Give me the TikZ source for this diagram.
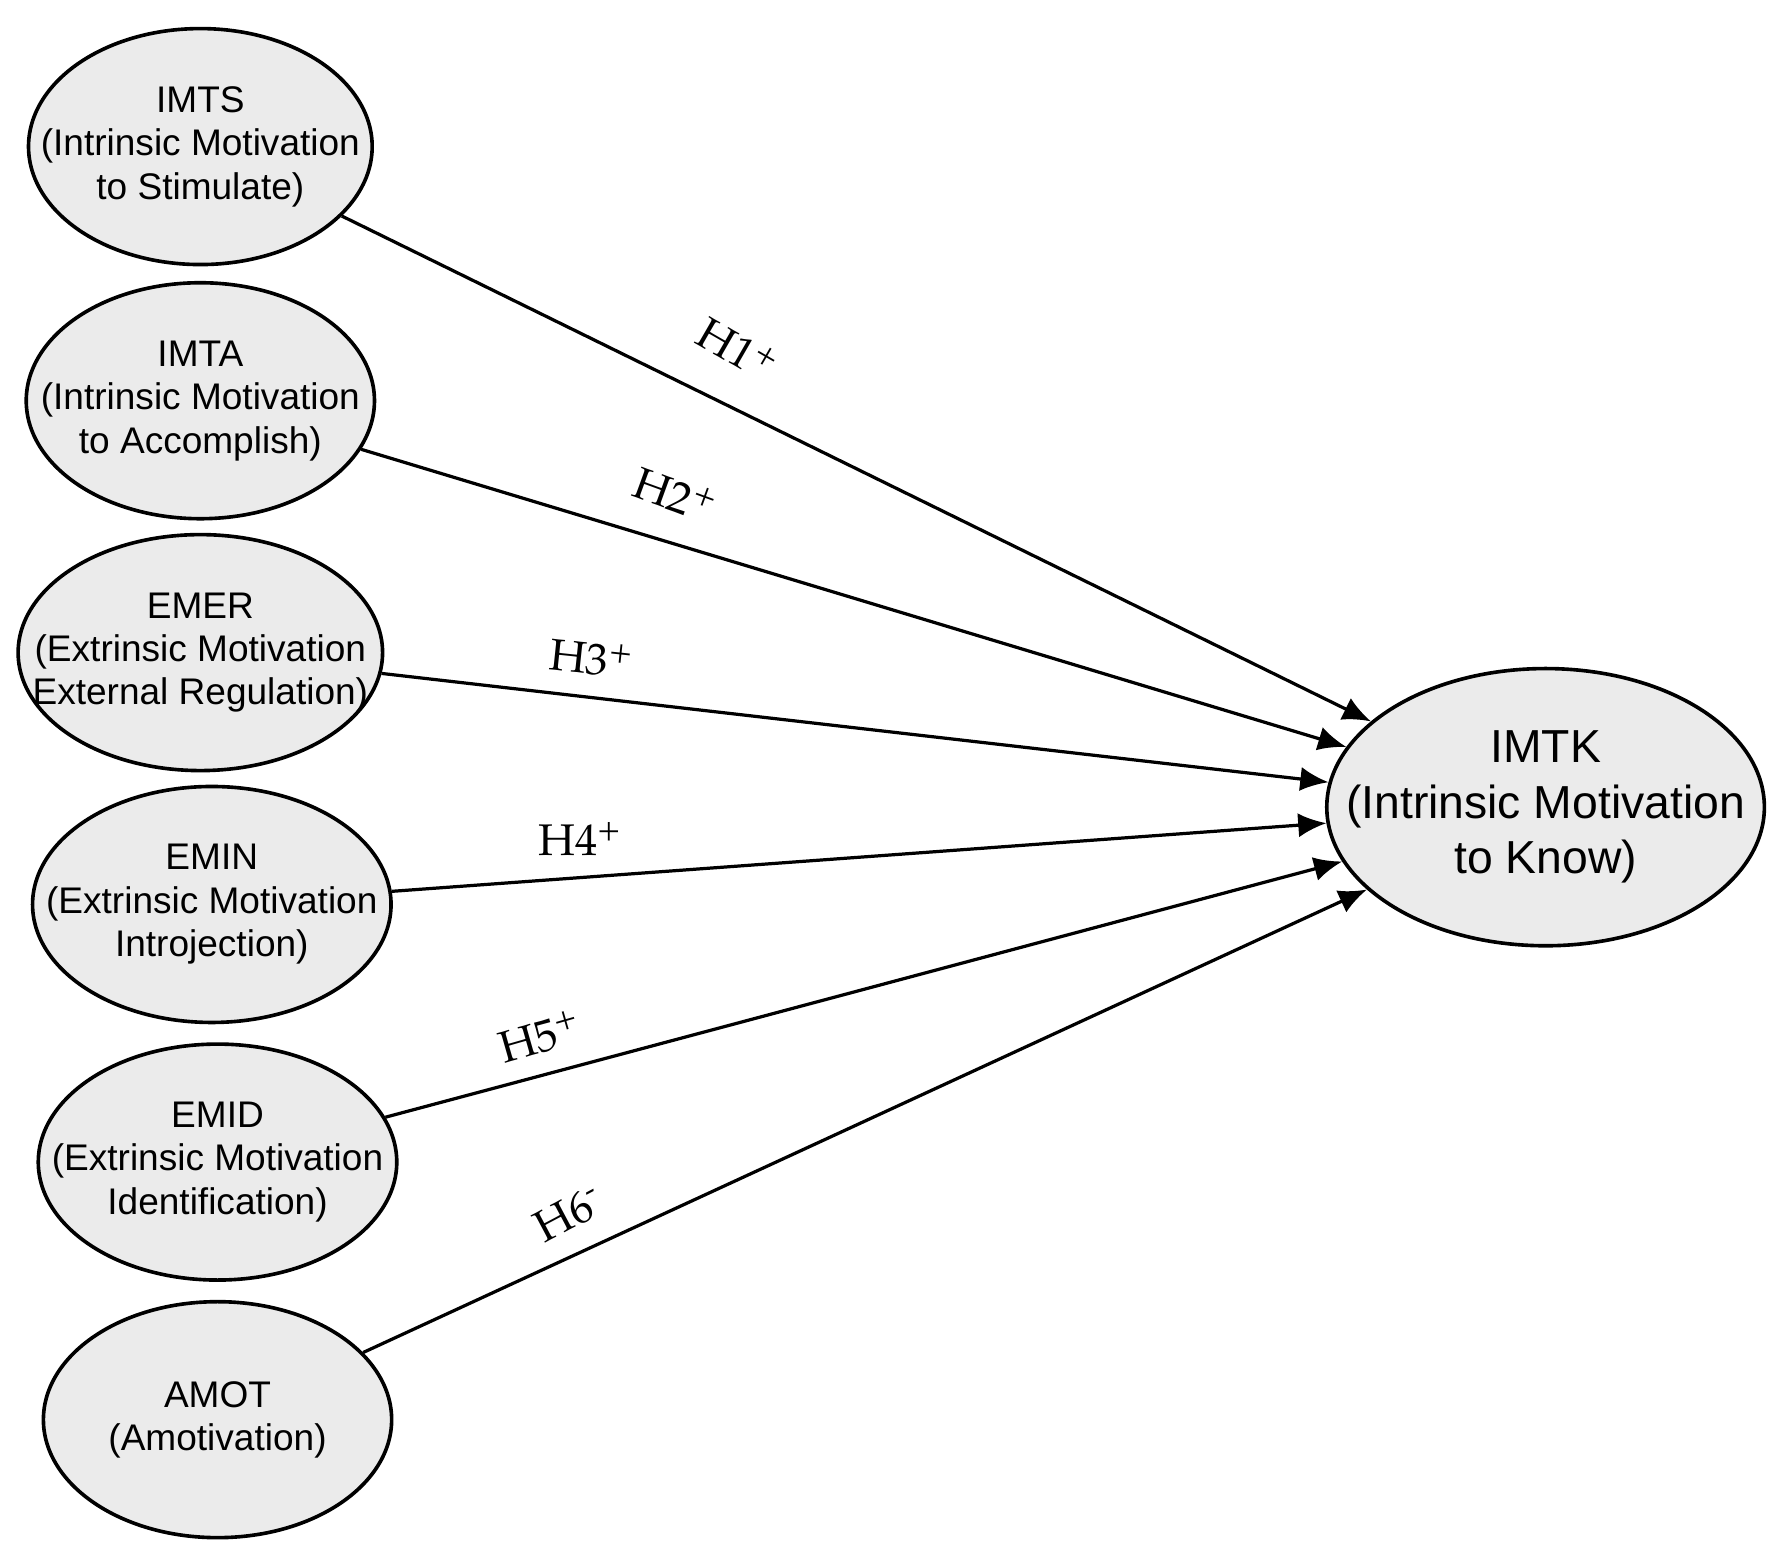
\documentclass[tikz,border=0pt]{standalone}
\usepackage{fontspec}
\setmainfont{Liberation Sans}
\newfontfamily\lblfont{TeX Gyre Pagella}
\usetikzlibrary{shapes.geometric,arrows.meta}
\begin{document}
\begin{tikzpicture}[x=0.01cm,y=-0.01cm,
  lat/.style={ellipse,draw,line width=0.9pt,fill=black!8,inner xsep=-0.34cm,inner ysep=0pt,align=center,font=\fontsize{9.2}{10.8}\selectfont},
  arr/.style={-{Latex[length=7pt,width=6pt]},line width=0.8pt},
  lbl/.style={font=\fontsize{11}{13}\selectfont\rmfamily}]
\useasboundingbox (0,0) rectangle (1560,1359);
\node[lat,minimum width=3.00cm,minimum height=2.06cm] (IMTS) at (175,128) {IMTS\\(Intrinsic Motivation\\to Stimulate)};
\node[lat,minimum width=3.04cm,minimum height=2.06cm] (IMTA) at (175,350) {IMTA\\(Intrinsic Motivation\\to Accomplish)};
\node[lat,minimum width=3.06cm,minimum height=2.06cm] (EMER) at (175,570) {EMER\\(Extrinsic Motivation\\External Regulation)};
\node[lat,minimum width=3.04cm,minimum height=2.06cm] (EMIN) at (185,790) {EMIN\\(Extrinsic Motivation\\Introjection)};
\node[lat,minimum width=3.00cm,minimum height=2.06cm] (EMID) at (190,1015) {EMID\\(Extrinsic Motivation\\Identification)};
\node[lat,minimum width=3.04cm,minimum height=2.06cm] (AMOT) at (190,1240) {AMOT\\(Amotivation)};
\node[lat,inner xsep=-0.4cm,minimum width=3.82cm,minimum height=2.42cm,font=\fontsize{11.5}{13.8}\selectfont] (IMTK) at (1350,705) {IMTK\\(Intrinsic Motivation\\to Know)};
\draw[arr] (IMTS) -- (IMTK);
\draw[arr] (IMTA) -- (IMTK);
\draw[arr] (EMER) -- (IMTK);
\draw[arr] (EMIN) -- (IMTK);
\draw[arr] (EMID) -- (IMTK);
\draw[arr] (AMOT) -- (IMTK);
\node[lbl,rotate=-30] (L1) at (645,305) {\lblfont H1\textsuperscript{+}};
\node[lbl,rotate=-20] (L2) at (590,432) {\lblfont H2\textsuperscript{+}};
\node[lbl,rotate=-6] (L3) at (517,575) {\lblfont H3\textsuperscript{+}};
\node[lbl,rotate=0] (L4) at (507,733) {\lblfont H4\textsuperscript{+}};
\node[lbl,rotate=16] (L5) at (472,905) {\lblfont H5\textsuperscript{+}};
\node[lbl,rotate=28] (L6) at (497,1060) {\lblfont H6\textsuperscript{-}};
\end{tikzpicture}
\end{document}
